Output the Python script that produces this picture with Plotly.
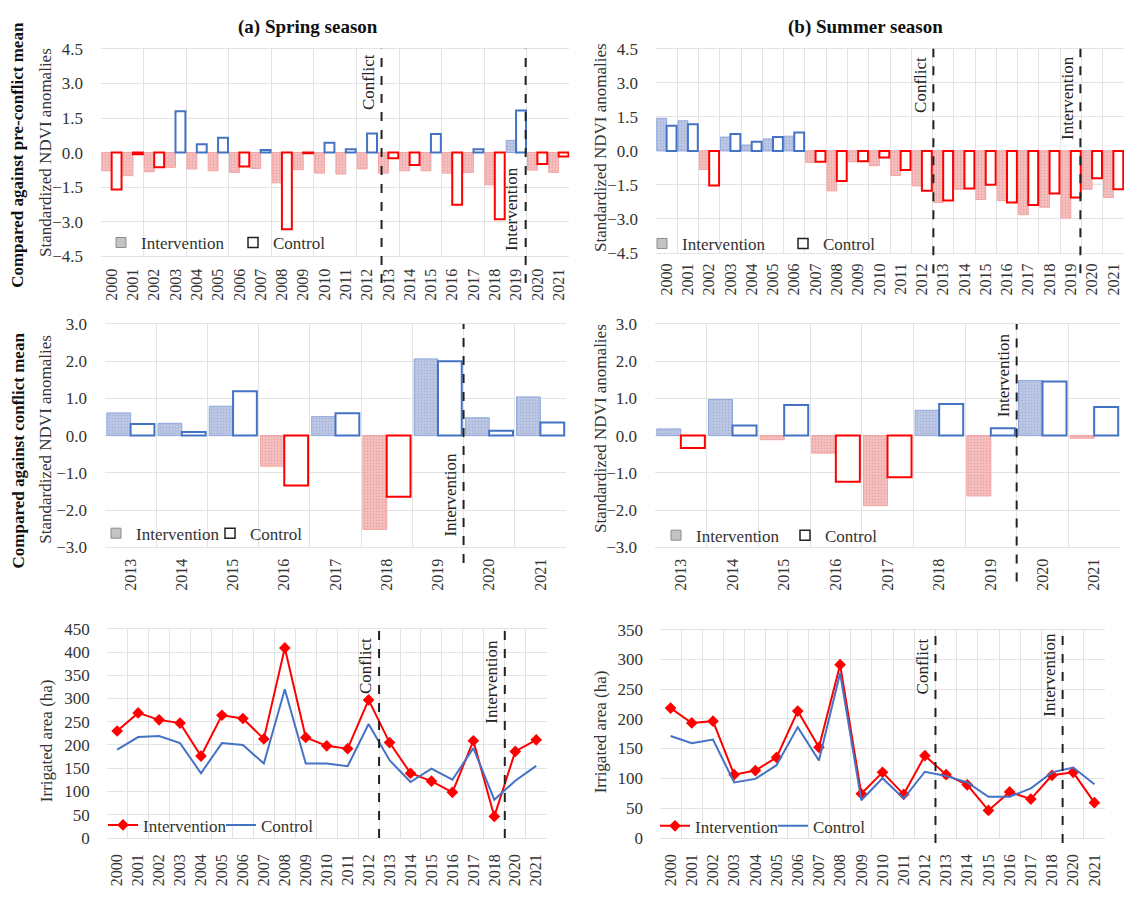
import plotly.graph_objects as go

# ---------------- data ----------------
years_all = [str(y) for y in range(2000, 2022)]
years_conf = [str(y) for y in range(2013, 2022)]
years_area = [str(y) for y in range(2000, 2019)] + ["2020", "2021"]

spring_pre_int = [-0.79, -1.00, -0.83, -0.64, -0.71, -0.79, -0.86, -0.69, -1.31, -0.74, -0.89,
                  -0.93, -0.71, -0.89, -0.79, -0.79, -0.89, -0.86, -1.40, 0.53, -0.76, -0.86]
spring_pre_ctl = [-1.60, -0.07, -0.64, 1.79, 0.36, 0.64, -0.60, 0.11, -3.33, -0.03, 0.43,
                  0.14, 0.83, -0.24, -0.54, 0.81, -2.26, 0.14, -2.89, 1.83, -0.50, -0.17]
summer_pre_int = [1.44, 1.33, -0.82, 0.61, 0.26, 0.53, 0.65, -0.50, -1.76, -0.48, -0.65,
                  -1.08, -1.54, -2.27, -1.69, -2.14, -2.19, -2.81, -2.48, -2.96, -1.69, -2.05]
summer_pre_ctl = [1.11, 1.18, -1.52, 0.75, 0.40, 0.61, 0.81, -0.48, -1.33, -0.46, -0.29,
                  -0.84, -1.75, -2.19, -1.66, -1.49, -2.27, -2.38, -1.88, -2.05, -1.20, -1.69]

spring_conf_int = [0.61, 0.33, 0.79, -0.82, 0.51, -2.52, 2.06, 0.48, 1.04]
spring_conf_ctl = [0.31, 0.10, 1.19, -1.34, 0.60, -1.64, 2.00, 0.13, 0.35]
summer_conf_int = [0.18, 0.97, -0.11, -0.47, -1.88, 0.68, -1.62, 1.48, -0.07]
summer_conf_ctl = [-0.33, 0.27, 0.82, -1.24, -1.12, 0.85, 0.20, 1.45, 0.77]

spring_area_int = [230, 269, 254, 247, 176, 264, 257, 213, 409, 216, 198, 192, 297, 205, 139,
                   122, 98, 209, 46, 186, 211]
spring_area_ctl = [190, 217, 219, 204, 139, 204, 200, 160, 320, 160, 160, 154, 245, 167, 120,
                   149, 125, 193, 82, 123, 155]
summer_area_int = [218, 193, 196, 106, 113, 135, 213, 152, 291, 74, 110, 73, 138, 106, 89,
                   46, 77, 65, 105, 110, 59]
summer_area_ctl = [171, 159, 165, 93, 99, 122, 186, 130, 277, 63, 100, 66, 111, 104, 93,
                   69, 69, 83, 110, 118, 90]

# event marker positions (category index units)
spring_pre_events = {"Conflict": 12.68, "Intervention": 19.45}
summer_pre_events = {"Conflict": 12.54, "Intervention": 19.45}
conf_events = {"Intervention": 6.5}
area_events = {"Conflict": 12.5, "Intervention": 18.5}

# ---------------- styling ----------------
W, H = 1128, 897
FONT = "Liberation Serif, Times New Roman, serif"
GRID = "#E3E3E3"
BLUE = "#4472C4"
RED = "#FF0000"
BLUE_FILL = "#BCC8E8"
BLUE_EDGE = "#8FA8DC"
RED_FILL = "#FABEBE"
RED_EDGE = "#F5A3A3"
TICK = "#333333"


def px_x(a, b):
    return [a / W, b / W]


def px_y(top, bottom):
    return [1 - bottom / H, 1 - top / H]


fig = go.Figure()
layout = dict(
    width=W, height=H,
    margin=dict(l=0, r=0, t=0, b=0),
    paper_bgcolor="white", plot_bgcolor="white",
    barmode="group", bargap=0.07, bargroupgap=0.0,
    font=dict(family=FONT, size=16, color=TICK),
    showlegend=True,
)
shapes = []
annotations = []
legend_count = [0]


def new_legend(x_px, y_px):
    legend_count[0] += 1
    name = "legend" if legend_count[0] == 1 else "legend%d" % legend_count[0]
    layout[name] = dict(
        x=x_px / W, y=1 - y_px / H, xanchor="left", yanchor="middle",
        orientation="h", bgcolor="rgba(0,0,0,0)", borderwidth=0,
        font=dict(family=FONT, size=17, color=TICK),
        itemwidth=30,
    )
    return name


def setup_axes(i, xdom, ydom, ncat, ticklabels, yrange, dtick, yfmt, grid_every, xstand, ystand):
    xa = "xaxis" if i == 1 else "xaxis%d" % i
    ya = "yaxis" if i == 1 else "yaxis%d" % i
    xid = "x" if i == 1 else "x%d" % i
    yid = "y" if i == 1 else "y%d" % i
    layout[xa] = dict(
        domain=xdom, anchor=yid, range=[-0.5, ncat - 0.5],
        tickmode="array", tickvals=list(range(ncat)), ticktext=ticklabels,
        tickangle=-90, showgrid=False, zeroline=False,
        showline=True, linecolor=GRID, linewidth=1, mirror=True,
        ticks="", tickfont=dict(family=FONT, size=16, color=TICK),
        ticklabelstandoff=xstand, fixedrange=True,
        minor=dict(tick0=-0.5, dtick=grid_every, showgrid=True, gridcolor=GRID, gridwidth=1),
    )
    layout[ya] = dict(
        domain=ydom, anchor=xid, range=yrange, dtick=dtick, tick0=yrange[0],
        tickformat=yfmt, showgrid=True, gridcolor=GRID, gridwidth=1, zeroline=False,
        showline=False, ticks="", tickfont=dict(family=FONT, size=17, color=TICK),
        ticklabelstandoff=ystand, fixedrange=True,
    )
    return xid, yid


def event_lines(xdom, ncat, events, top_px, bottom_px, label_specs):
    for name, pos in events.items():
        xp = xdom[0] + (pos + 0.5) / ncat * (xdom[1] - xdom[0])
        shapes.append(dict(type="line", xref="paper", yref="paper",
                           x0=xp, x1=xp, y0=1 - bottom_px / H, y1=1 - top_px / H,
                           line=dict(color="#222222", width=2, dash="dash")))
        spec = label_specs[name]
        annotations.append(dict(
            text=name, xref="paper", yref="paper", x=xp, y=1 - spec[1] / H,
            xanchor="right", yanchor=spec[0], xshift=-2, textangle=-90, showarrow=False,
            font=dict(family=FONT, size=17, color="#222222"),
        ))


def bar_panel(i, xdom, ydom, cats, ivals, cvals, yrange, dtick, grid_every, events,
              line_top, line_bottom, label_specs, leg_int, leg_ctl, xstand):
    n = len(cats)
    xid, yid = setup_axes(i, xdom, ydom, n, cats, yrange, dtick, ".1f", grid_every, xstand, 17)
    xs = list(range(n))
    fig.add_trace(go.Bar(
        x=xs, y=ivals, xaxis=xid, yaxis=yid, name="Intervention", showlegend=False,
        offsetgroup="int",
        marker=dict(color=[BLUE_FILL if v >= 0 else RED_FILL for v in ivals],
                    line=dict(color=[BLUE_EDGE if v >= 0 else RED_EDGE for v in ivals], width=1),
                    pattern=dict(shape=".", fgcolor=[BLUE if v >= 0 else RED for v in ivals],
                                 fgopacity=0.2, size=3, solidity=0.25)),
    ))
    fig.add_trace(go.Bar(
        x=xs, y=cvals, xaxis=xid, yaxis=yid, name="Control", showlegend=False,
        offsetgroup="ctl",
        marker=dict(color="white",
                    line=dict(color=[BLUE if v >= 0 else RED for v in cvals], width=2)),
    ))
    l1 = new_legend(*leg_int)
    fig.add_trace(go.Scatter(
        x=[None], y=[None], xaxis=xid, yaxis=yid, mode="markers", name="Intervention",
        legend=l1, marker=dict(symbol="square", size=10, color="#C4C4C4",
                               line=dict(color="#8C8C8C", width=1)),
    ))
    l2 = new_legend(*leg_ctl)
    fig.add_trace(go.Scatter(
        x=[None], y=[None], xaxis=xid, yaxis=yid, mode="markers", name="Control",
        legend=l2, marker=dict(symbol="square", size=10, color="white",
                               line=dict(color="#222222", width=1.5)),
    ))
    event_lines(xdom, n, events, line_top, line_bottom, label_specs)


def line_panel(i, xdom, ydom, cats, ivals, cvals, yrange, events, line_top, line_bottom,
               label_specs, leg_int, leg_ctl):
    n = len(cats)
    xid, yid = setup_axes(i, xdom, ydom, n, cats, yrange, 50, "d", 1, 9, 16)
    xs = list(range(n))
    l1 = new_legend(*leg_int)
    fig.add_trace(go.Scatter(
        x=xs, y=ivals, xaxis=xid, yaxis=yid, name="Intervention", legend=l1,
        mode="lines+markers", line=dict(color=RED, width=2),
        marker=dict(symbol="diamond", size=9, color=RED),
    ))
    l2 = new_legend(*leg_ctl)
    fig.add_trace(go.Scatter(
        x=xs, y=cvals, xaxis=xid, yaxis=yid, name="Control", legend=l2,
        mode="lines", line=dict(color=BLUE, width=2),
    ))
    event_lines(xdom, n, events, line_top, line_bottom, label_specs)


# ---- row 1: against pre-conflict mean ----
bar_panel(1, px_x(101, 569.3), px_y(40.7, 252.7), years_all, spring_pre_int, spring_pre_ctl,
          [-4.5, 4.5], 1.5, 2, spring_pre_events, 40.7, 280,
          {"Conflict": ("top", 44), "Intervention": ("bottom", 249)},
          (101, 239), (233, 239), 5)
bar_panel(2, px_x(656, 1124), px_y(40.7, 249.3), years_all, summer_pre_int, summer_pre_ctl,
          [-4.5, 4.5], 1.5, 1, summer_pre_events, 40.7, 270,
          {"Conflict": ("top", 47), "Intervention": ("top", 46)},
          (642, 240), (783, 240), 3)

# ---- row 2: against conflict mean ----
bar_panel(3, px_x(105, 566), px_y(321.7, 550), years_conf, spring_conf_int, spring_conf_ctl,
          [-3.0, 3.0], 1.0, 1, conf_events, 321.7, 566,
          {"Intervention": ("bottom", 541)},
          (96, 536), (210, 536), 4)
bar_panel(4, px_x(655, 1120), px_y(321.7, 550), years_conf, summer_conf_int, summer_conf_ctl,
          [-3.0, 3.0], 1.0, 1, conf_events, 321.7, 585,
          {"Intervention": ("top", 329)},
          (656, 538), (785, 538), 4)

# ---- row 3: irrigated area ----
line_panel(5, px_x(106.7, 546.7), px_y(633.3, 846.7), years_area, spring_area_int, spring_area_ctl,
           [0, 450], area_events, 635, 847,
           {"Conflict": ("top", 641), "Intervention": ("top", 642)},
           (103, 834), (221, 834))
line_panel(6, px_x(660, 1105), px_y(634, 846.7), years_area, summer_area_int, summer_area_ctl,
           [0, 350], area_events, 636, 852,
           {"Conflict": ("top", 641), "Intervention": ("top", 635)},
           (655, 835), (773, 835))


def text(t, x_px, y_px, size, bold=False, angle=0, color="#111111"):
    annotations.append(dict(
        text=("<b>%s</b>" % t) if bold else t, xref="paper", yref="paper",
        x=x_px / W, y=1 - y_px / H, xanchor="center", yanchor="middle",
        textangle=angle, showarrow=False, font=dict(family=FONT, size=size, color=color),
    ))


text("(a) Spring season", 308, 18, 19, bold=True)
text("(b) Summer season", 865, 18, 19, bold=True)
text("Compared against pre-conflict mean", 18, 149, 17, bold=True, angle=-90)
text("Compared against conflict mean", 18, 451, 17, bold=True, angle=-90)
text("Standardized NDVI anomalies", 46, 147, 17, angle=-90, color=TICK)
text("Standardized NDVI anomalies", 601, 142, 17, angle=-90, color=TICK)
text("Standardized NDVI anomalies", 46, 440, 17, angle=-90, color=TICK)
text("Standardized NDVI anomalies", 601, 429, 17, angle=-90, color=TICK)
text("Irrigated area (ha)", 46, 748, 17, angle=-90, color=TICK)
text("Irrigated area (ha)", 600, 739, 17, angle=-90, color=TICK)

layout["shapes"] = shapes
layout["annotations"] = annotations
fig.update_layout(**layout)
fig.write_html("out.html")
